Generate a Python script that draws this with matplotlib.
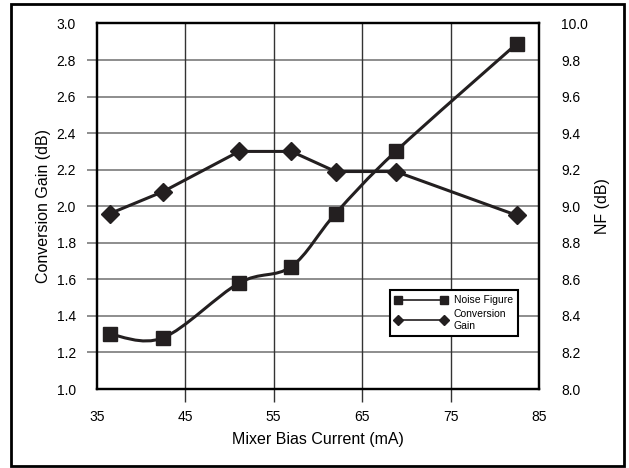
import numpy as np
import matplotlib
matplotlib.use("Agg")
import matplotlib.pyplot as plt
from matplotlib.path import Path
from matplotlib.patches import PathPatch, Rectangle
from matplotlib.lines import Line2D

plt.rcParams['font.family'] = ['Liberation Sans Narrow', 'Liberation Sans', 'DejaVu Sans']

# ── DATA ──────────────────────────────────────────────────────────────────────
bias_ma   = [36.5, 42.5, 51.1, 57.0, 62.0, 68.8, 82.5]
gain_db   = [1.96, 2.08, 2.30, 2.30, 2.19, 2.19, 1.95]
nf_db     = [8.30, 8.28, 8.58, 8.67, 8.96, 9.30, 9.89]

x_ticks   = [35, 45, 55, 65, 75, 85]
gain_ticks = [1.0, 1.2, 1.4, 1.6, 1.8, 2.0, 2.2, 2.4, 2.6, 2.8, 3.0]
nf_ticks   = [8.0, 8.2, 8.4, 8.6, 8.8, 9.0, 9.2, 9.4, 9.6, 9.8, 10.0]

INK = "#231f20"


def smooth_path(xs, ys):
    """Catmull-Rom style bezier through the points (like a spreadsheet 'smoothed line')."""
    pts = np.column_stack([xs, ys])
    ext = np.vstack([pts[:1], pts, pts[-1:]])
    verts = [tuple(pts[0])]
    codes = [Path.MOVETO]
    for i in range(1, len(ext) - 2):
        p0, p1, p2, p3 = ext[i - 1], ext[i], ext[i + 1], ext[i + 2]
        c1 = p1 + (p2 - p0) / 6.0
        c2 = p2 - (p3 - p1) / 6.0
        verts += [tuple(c1), tuple(c2), tuple(p2)]
        codes += [Path.CURVE4] * 3
    return Path(verts, codes)


fig = plt.figure(figsize=(6.29, 4.68), dpi=100)
fig.patches.append(Rectangle((0.0175, 0.004), 0.974, 0.987, transform=fig.transFigure,
                             fill=False, edgecolor="black", linewidth=2.0))

ax = fig.add_axes([0.1537, 0.1688, 0.7033, 0.781])
ax2 = ax.twinx()

# grid
for g in gain_ticks[1:-1]:
    ax.axhline(g, color="#7a7a7a", linewidth=1.2, zorder=1)
for xv in x_ticks[1:-1]:
    ax.axvline(xv, color="#333333", linewidth=1.0, zorder=1)

# conversion gain (left axis)
ax.plot(bias_ma, gain_db, color=INK, linewidth=2.2, marker="D", markersize=9.5,
        markerfacecolor=INK, markeredgecolor=INK, zorder=3)

# noise figure (right axis), smoothed curve
ax2.add_patch(PathPatch(smooth_path(bias_ma, nf_db), facecolor="none",
                        edgecolor=INK, linewidth=2.2, zorder=3))
ax2.plot(bias_ma, nf_db, linestyle="none", marker="s", markersize=9.5,
         markerfacecolor=INK, markeredgecolor=INK, zorder=4)

ax.set_xlim(35, 85)
ax.set_ylim(1.0, 3.0)
ax2.set_ylim(8.0, 10.0)

ax.set_xticks(x_ticks)
ax.set_yticks(gain_ticks)
ax.set_yticklabels([f"{v:.1f}" for v in gain_ticks])
ax2.set_yticks(nf_ticks)
ax2.set_yticklabels([f"{v:.1f}" for v in nf_ticks])

ax.tick_params(axis="y", direction="out", length=7, width=1.2, color="#7a7a7a",
               labelsize=10, pad=8)
ax.tick_params(axis="x", direction="out", length=9, width=1.0, color="#333333",
               labelsize=10, pad=6)
ax2.tick_params(axis="y", length=0, labelsize=10, pad=16)

# no tick marks at the corners
for t in (ax.xaxis.get_major_ticks()[0], ax.xaxis.get_major_ticks()[-1],
          ax.yaxis.get_major_ticks()[0], ax.yaxis.get_major_ticks()[-1]):
    t.tick1line.set_visible(False)

for a in (ax, ax2):
    for s in a.spines.values():
        s.set_color("black")
        s.set_linewidth(1.6)

ax.set_xlabel("Mixer Bias Current (mA)", fontsize=11.5, labelpad=6)
ax.set_ylabel("Conversion Gain (dB)", fontsize=11.5, labelpad=4)
ax2.set_ylabel("NF (dB)", fontsize=11.5, labelpad=5)

handles = [
    Line2D([], [], color=INK, linewidth=1.2, marker="s", markersize=5.5),
    Line2D([], [], color=INK, linewidth=1.2, marker="D", markersize=5.5),
]
leg = ax2.legend(handles, ["Noise Figure", "Conversion\nGain"], loc="upper left",
                 bbox_to_anchor=(0.663, 0.271), borderaxespad=0, numpoints=2,
                 fontsize=7.5, handlelength=5.0, fancybox=False, framealpha=1,
                 edgecolor="black", borderpad=0.5, labelspacing=0.4, handletextpad=0.6)
leg.get_frame().set_linewidth(1.5)

fig.savefig("out.png", dpi=100)
